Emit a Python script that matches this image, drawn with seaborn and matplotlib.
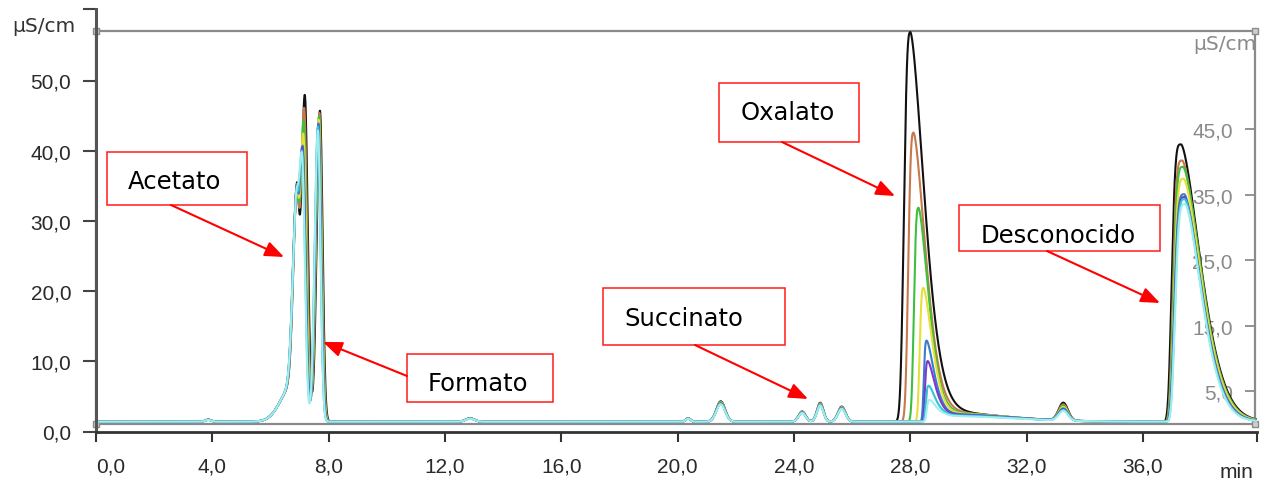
import numpy as np
import matplotlib
matplotlib.use("Agg")
import matplotlib.pyplot as plt
from matplotlib.patches import Rectangle, FancyArrowPatch
import seaborn as sns

# ---------------- data ----------------
# traces, drawn in this order (black first, light cyan last)
trace_colors = ['#111111', '#c8784a', '#3fbf3f', '#e6df3a', '#3a7cc8', '#7b3ccc', '#2fc6cf', '#9eeeee']
baseline_level = 1.4

# acetate front, acetate (double) and formate peaks  [min], [uS/cm above baseline]
front_center, front_height, front_left, front_right = 6.75, 5.0, 0.40, 0.20
ac1_center = [6.90, 6.89, 6.88, 6.88, 6.87, 6.87, 6.86, 6.86]
ac1_height = [27.0, 26.0, 25.0, 24.0, 23.0, 22.0, 21.0, 20.0]
ac2_center = [7.18, 7.16, 7.14, 7.13, 7.11, 7.10, 7.09, 7.08]
ac2_height = [46.0, 44.0, 42.0, 40.0, 38.0, 37.5, 37.0, 36.5]
fo_center = [7.70, 7.68, 7.67, 7.66, 7.65, 7.64, 7.63, 7.63]
fo_height = [44.3, 44.0, 43.5, 43.0, 42.5, 42.0, 42.0, 41.5]

# minor peaks (shared by all traces, scaled per trace)
minor_center = [3.86, 12.86, 20.36, 21.48, 24.28, 24.90, 25.64]
minor_height = [0.3, 0.5, 0.5, 2.9, 1.45, 2.7, 2.15]
minor_width = [0.10, 0.15, 0.08, 0.15, 0.12, 0.11, 0.13]
minor_scale = [1.0, 0.97, 0.95, 0.93, 0.90, 0.90, 0.88, 0.85]

# oxalate
ox_center = [28.00, 28.11, 28.28, 28.45, 28.56, 28.60, 28.63, 28.66]
ox_height = [55.3, 41.0, 30.3, 18.9, 11.4, 8.5, 5.0, 3.0]
ox_left = [0.206, 0.17, 0.146, 0.12, 0.09, 0.09, 0.09, 0.09]
ox_right = [0.44, 0.38, 0.32, 0.28, 0.24, 0.23, 0.22, 0.22]
ox_tail = [1.5, 1.4, 1.3, 1.2, 1.1, 1.0, 0.9, 0.8]

# small peak at 33.3 min
p33_center, p33_width = 33.26, 0.16
p33_height = [2.55, 2.3, 2.1, 1.9, 1.7, 1.6, 1.5, 1.4]

# unknown (desconocido)
de_center = [37.31, 37.35, 37.38, 37.40, 37.42, 37.43, 37.44, 37.45]
de_height = [39.5, 37.2, 36.3, 34.6, 32.4, 32.0, 31.7, 31.0]
de_left = [0.30, 0.30, 0.31, 0.31, 0.32, 0.32, 0.32, 0.32]
de_right = [0.63, 0.61, 0.60, 0.59, 0.57, 0.56, 0.55, 0.54]

left_ticks = [0, 10, 20, 30, 40, 50]
left_labels = ['0,0', '10,0', '20,0', '30,0', '40,0', '50,0']
right_ticks = [5, 15, 25, 35, 45]
right_labels = ['5,0', '15,0', '25,0', '35,0', '45,0']
x_ticks = [0, 4, 8, 12, 16, 20, 24, 28, 32, 36]
x_labels = ['0,0', '4,0', '8,0', '12,0', '16,0', '20,0', '24,0', '28,0', '32,0', '36,0']

annotations = ['Acetato', 'Formato', 'Oxalato', 'Succinato', 'Desconocido']

# ---------------- build traces from the peak table ----------------
def peak(t, c, h, sl, sr, pl=2.0, pr=2.0):
    d = t - c
    left = d < 0
    z = np.where(left, -d / sl, d / sr)
    p = np.where(left, pl, pr)
    return h * np.exp(-0.5 * z ** p)

X_MAX = 39.92
t = np.linspace(0, X_MAX, 6000)
traces = []
for i in range(len(trace_colors)):
    y = np.full_like(t, baseline_level)
    y += peak(t, front_center, front_height, front_left, front_right)
    y += peak(t, ac1_center[i], ac1_height[i], 0.12, 0.08)
    y += peak(t, ac2_center[i], ac2_height[i], 0.12, 0.10)
    y += peak(t, fo_center[i], fo_height[i], 0.11, 0.09)
    for c, h, w in zip(minor_center, minor_height, minor_width):
        y += peak(t, c, h * minor_scale[i], w, w)
    y += peak(t, ox_center[i], ox_height[i], ox_left[i], ox_right[i], 3.0, 1.6)
    y += peak(t, ox_center[i] + 0.6, ox_tail[i], 0.3, 2.2)
    y += peak(t, p33_center, p33_height[i], p33_width, p33_width)
    y += peak(t, de_center[i], de_height[i], de_left[i], de_right[i], 4.0, 1.6)
    traces.append(y)

# ---------------- figure ----------------
sns.set_style('white')
plt.rcParams['font.family'] = ['Liberation Sans', 'DejaVu Sans']

W, H = 1262, 485
fig = plt.figure(figsize=(W / 100, H / 100), dpi=100)
PX_MIN = 29.08

# grey frame with right-hand axis
axf = fig.add_axes([96 / W, 1 - 425 / H, 1159 / W, 393 / H])
axf.set_facecolor('white')
xmax_f = 1159 / PX_MIN
axf.set_xlim(0, xmax_f)
axf.set_ylim(0, 60)
for s in axf.spines.values():
    s.set_color('#8a8a8a')
    s.set_linewidth(1.6)
axf.set_xticks([])
axf.yaxis.tick_right()
axf.set_yticks(right_ticks)
axf.set_yticklabels(right_labels)
axf.tick_params(axis='y', direction='in', length=7.5, width=1.3, colors='#8a8a8a',
                labelcolor='#8a8a8a', labelsize=15, pad=-16)
plt.setp(axf.get_yticklabels(), ha='right')
axf.plot([0, 0, xmax_f, xmax_f], [0, 60, 0, 60], ls='none', marker='s', ms=5,
         mfc='#cfcfcf', mec='#8a8a8a', clip_on=False, zorder=5)
ul = axf.text(37.72, 57.2, 'µS/cm', color='#8a8a8a', fontsize=14.5,
              family='DejaVu Sans', ha='left', va='baseline', clip_on=True)
ul.set_clip_box(axf.bbox)

# main axes with the traces
ax = fig.add_axes([96 / W, 1 - 432.5 / H, (1257 - 96) / W, 422.5 / H])
ax.set_facecolor('none')
for i, y in enumerate(traces):
    sns.lineplot(x=t, y=y, color=trace_colors[i], linewidth=1.5, ax=ax,
                 estimator=None, sort=False, legend=False)
ymax = 422.5 / 7.02
ax.set_xlim(0, X_MAX)
ax.set_ylim(0, ymax)
ax.set_xlabel('')
ax.set_ylabel('')
ax.spines['top'].set_visible(False)
ax.spines['right'].set_visible(False)
ax.spines['left'].set_color('#555555')
ax.spines['left'].set_linewidth(2.2)
ax.spines['bottom'].set_color('#333333')
ax.spines['bottom'].set_linewidth(2.0)
ax.set_yticks(left_ticks + [ymax - 0.01])
ax.set_yticklabels(left_labels + [''])
ax.set_xticks(x_ticks + [X_MAX - 0.01])
ax.set_xticklabels(x_labels + [''])
ax.tick_params(axis='y', direction='out', length=9.4, width=1.5, colors='#444444',
               labelcolor='#2a2a2a', labelsize=15, pad=8.5, left=True)
ax.tick_params(axis='x', direction='out', length=7.2, width=1.5, colors='#333333',
               labelcolor='#2a2a2a', labelsize=15, pad=10.5, bottom=True)
ax.get_xticklabels()[0].set_ha('left')

fig.text(12 / W, 1 - 32 / H, 'µS/cm', color='#333333', fontsize=14.5,
         family='DejaVu Sans', ha='left', va='baseline')
fig.text(1220 / W, 1 - 478 / H, 'min', color='#2a2a2a', fontsize=15,
         ha='left', va='baseline')

# annotation boxes and arrows (pixel layout)
boxes = [(107, 153, 247, 206), (407, 355, 553, 403), (719, 84, 859, 143),
         (603, 289, 785, 346), (959, 206, 1160, 252)]
text_pos = [(128, 189.5), (428, 391.5), (741, 120), (624, 326.5), (981, 243)]
arrows = [((171, 206), (284, 258)), ((407, 377), (323, 343)), ((782, 143), (895, 197)),
          ((695, 346), (808, 400)), ((1047, 252), (1160, 304))]

for name, (x0, y0, x1, y1), (tx, ty), (pa, pb) in zip(annotations, boxes, text_pos, arrows):
    r = Rectangle((x0 / W, 1 - y1 / H), (x1 - x0) / W, (y1 - y0) / H,
                  transform=fig.transFigure, facecolor='white', edgecolor='#ff1a1a',
                  linewidth=1.1, zorder=6)
    fig.add_artist(r)
    fig.text(tx / W, 1 - ty / H, name, family='DejaVu Sans', fontsize=17.5,
             color='black', ha='left', va='baseline', zorder=7)
    arr = FancyArrowPatch((pa[0] / W, 1 - pa[1] / H), (pb[0] / W, 1 - pb[1] / H),
                          transform=fig.transFigure,
                          arrowstyle='-|>,head_length=11.5,head_width=4.6',
                          mutation_scale=1, color='#ff0000', linewidth=1.5,
                          shrinkA=0, shrinkB=0, zorder=7)
    fig.add_artist(arr)

fig.savefig('out.png', dpi=100)
